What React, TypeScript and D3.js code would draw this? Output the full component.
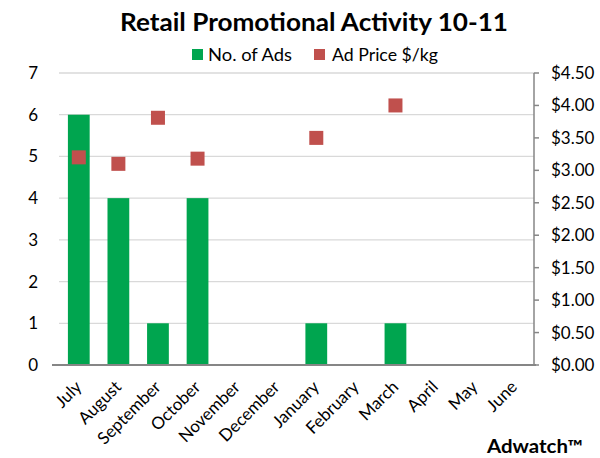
import React from "react";
import * as d3 from "d3";

const months = ["July","August","September","October","November","December","January","February","March","April","May","June"];
const adsCount: (number | null)[] = [6, 4, 1, 4, null, null, 1, null, 1, null, null, null];
const adPrice: (number | null)[] = [3.2, 3.1, 3.81, 3.18, null, null, 3.5, null, 4.0, null, null, null];
const leftTicks = [0,1,2,3,4,5,6,7];
const rightTicks = [0,0.5,1,1.5,2,2.5,3,3.5,4,4.5];

const W = 600, H = 458;
const M = { left: 59, right: 534, top: 73, bottom: 365 };
const GREEN = "#00A54F";
const RED = "#C0504D";
const FONT = "Lato, 'Open Sans', sans-serif";

export default function App() {
  const x = d3.scaleBand<string>().domain(months).range([M.left, M.right]).paddingInner(0.45).paddingOuter(0.225);
  const xc = d3.scaleBand<string>().domain(months).range([M.left, M.right]);
  const yL = d3.scaleLinear().domain([0, 7]).range([M.bottom, M.top]);
  const yR = d3.scaleLinear().domain([0, 4.5]).range([M.bottom, M.top]);
  const fmt = (v: number) => "$" + d3.format(".2f")(v);
  const sq = 14;
  return (
    <svg width={W} height={H} style={{ position: "absolute", left: 0, top: 0, fontFamily: FONT }}>
      <rect width={W} height={H} fill="#fff" />
      <text x={120} y={31} fontSize={25} fontWeight="bold" fill="#000" textLength={388} lengthAdjust="spacingAndGlyphs">Retail Promotional Activity 10-11</text>
      {/* legend */}
      <rect x={192} y={49} width={11} height={11} fill={GREEN} />
      <text x={208} y={60.5} fontSize={17} fill="#000" textLength={84} lengthAdjust="spacingAndGlyphs">No. of Ads</text>
      <rect x={314} y={49} width={11} height={11} fill={RED} />
      <text x={332} y={60.5} fontSize={17} fill="#000" textLength={106} lengthAdjust="spacingAndGlyphs">Ad Price $/kg</text>
      {/* gridlines */}
      {leftTicks.filter(t => t > 0).map(t => (
        <line key={t} x1={M.left} x2={M.right} y1={yL(t)} y2={yL(t)} stroke="#D9D9D9" strokeWidth={1.3} />
      ))}
      {/* bars */}
      {months.map((m, i) => adsCount[i] != null ? (
        <rect key={m} x={x(m)} y={yL(adsCount[i] as number)} width={x.bandwidth()} height={M.bottom - yL(adsCount[i] as number)} fill={GREEN} />
      ) : null)}
      {/* price markers */}
      {months.map((m, i) => adPrice[i] != null ? (
        <rect key={m} x={(xc(m) as number) + xc.bandwidth() / 2 - sq / 2} y={yR(adPrice[i] as number) - sq / 2} width={sq} height={sq} fill={RED} />
      ) : null)}
      {/* axes */}
      <line x1={M.left - 7} x2={M.right + 2} y1={M.bottom} y2={M.bottom} stroke="#868686" strokeWidth={2} />
      <line x1={M.right} x2={M.right} y1={M.top} y2={M.bottom} stroke="#868686" strokeWidth={1.5} />
      {rightTicks.map(t => (
        <line key={t} x1={M.right} x2={M.right + 5} y1={yR(t)} y2={yR(t)} stroke="#868686" strokeWidth={1.5} />
      ))}
      {leftTicks.map(t => (
        <text key={t} x={38} y={yL(t) + 6} textAnchor="end" fontSize={17} fill="#000">{t}</text>
      ))}
      {rightTicks.map(t => (
        <text key={t} x={551} y={yR(t) + 6} textAnchor="start" fontSize={17} fill="#000">{fmt(t)}</text>
      ))}
      {months.map(m => {
        const cx = (xc(m) as number) + xc.bandwidth() / 2 + 4;
        const cy = M.bottom + 23;
        return (
          <text key={m} x={cx} y={cy} textAnchor="end" fontSize={17} fill="#000" transform={`rotate(-45 ${cx} ${cy})`}>{m}</text>
        );
      })}
      <text x={583} y={453} textAnchor="end" fontSize={18} fontWeight="bold" fill="#000" textLength={96} lengthAdjust="spacingAndGlyphs">Adwatch™</text>
    </svg>
  );
}
